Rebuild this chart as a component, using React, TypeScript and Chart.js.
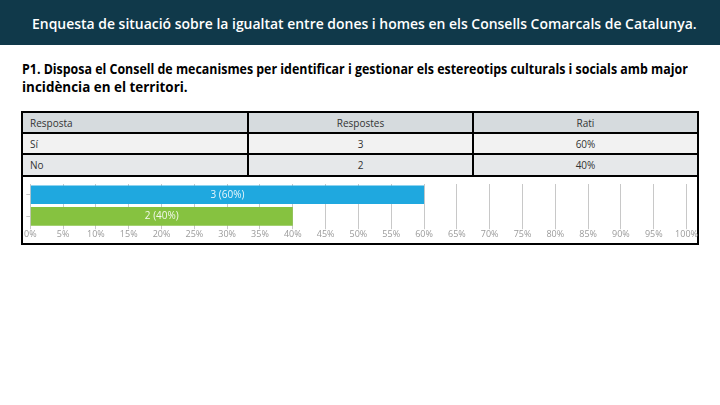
import React, { useEffect, useLayoutEffect, useRef } from "react";
import { Chart, registerables } from "chart.js";

Chart.register(...registerables);

const headerTitle = "Enquesta de situació sobre la igualtat entre dones i homes en els Consells Comarcals de Catalunya.";
const questionLines = [
  "P1. Disposa el Consell de mecanismes per identificar i gestionar els estereotips culturals i socials amb major",
  "incidència en el territori.",
];
const tableHeaders = ["Resposta", "Respostes", "Rati"];
const categories = ["Sí", "No"];
const counts = [3, 2];
const ratios = [60, 40];
const barColors = ["#1fa8df", "#86c240"];
const xTicks = [0, 5, 10, 15, 20, 25, 30, 35, 40, 45, 50, 55, 60, 65, 70, 75, 80, 85, 90, 95, 100];

function FitText({ text, width, style }: { text: string; width: number; style: React.CSSProperties }) {
  const ref = useRef<HTMLSpanElement>(null);
  useLayoutEffect(() => {
    const el = ref.current;
    if (!el) return;
    el.style.transform = "none";
    const w = el.offsetWidth;
    if (w > 0) el.style.transform = `scaleX(${width / w})`;
  }, [text, width]);
  return (
    <span
      ref={ref}
      style={{ display: "inline-block", whiteSpace: "nowrap", transformOrigin: "left center", ...style }}
    >
      {text}
    </span>
  );
}

const barLabelPlugin = {
  id: "barLabels",
  afterDatasetsDraw(chart: any) {
    const ctx = chart.ctx;
    const meta = chart.getDatasetMeta(0);
    ctx.save();
    ctx.font = "10px 'Open Sans', sans-serif";
    ctx.fillStyle = "rgba(255,255,255,0.9)";
    ctx.textAlign = "center";
    ctx.textBaseline = "middle";
    meta.data.forEach((bar: any, i: number) => {
      const cx = (bar.x + bar.base) / 2;
      ctx.fillText(`${counts[i]} (${ratios[i]}%)`, cx, bar.y);
    });
    ctx.restore();
  },
};

function BarChart() {
  const canvasRef = useRef<HTMLCanvasElement>(null);
  useEffect(() => {
    if (!canvasRef.current) return;
    const chart = new Chart(canvasRef.current, {
      type: "bar",
      data: {
        labels: categories,
        datasets: [
          {
            data: ratios,
            backgroundColor: barColors,
            borderWidth: 0,
            barPercentage: 0.86,
            categoryPercentage: 1,
          },
        ],
      },
      options: {
        indexAxis: "y",
        animation: false,
        responsive: false,
        maintainAspectRatio: false,
        layout: { padding: { left: 2, right: 11, top: 6, bottom: 0 } },
        plugins: { legend: { display: false }, tooltip: { enabled: false } },
        scales: {
          x: {
            min: 0,
            max: 100,
            afterBuildTicks: (axis: any) => {
              axis.ticks = xTicks.map((v) => ({ value: v }));
            },
            ticks: {
              autoSkip: false,
              maxRotation: 0,
              padding: 0,
              color: "#9a9a9a",
              font: { size: 9, family: "'Open Sans', sans-serif" },
              callback: (v: any) => `${v}%`,
            },
            grid: { color: "#c8c8c8", tickLength: 2, lineWidth: 1 },
            border: { display: false },
          },
          y: {
            ticks: { display: false },
            grid: { drawOnChartArea: false, offset: false, tickLength: 4, color: "#c8c8c8" },
            border: { display: false },
          },
        },
      },
      plugins: [barLabelPlugin],
    } as any);
    return () => chart.destroy();
  }, []);
  return <canvas ref={canvasRef} width={674} height={62} style={{ display: "block", width: 674, height: 62 }} />;
}

export default function App() {
  const cell: React.CSSProperties = {
    position: "absolute",
    display: "flex",
    alignItems: "center",
    fontFamily: "'Open Sans', sans-serif",
    fontSize: 10,
    color: "#333",
  };
  const rowsY = [112, 133, 154, 176];
  const colsX = [22, 248, 473, 698];
  const rowBg = ["#d6dbde", "#f2f2f2", "#e6e8ea"];
  const tableRows = [tableHeaders, [categories[0], String(counts[0]), `${ratios[0]}%`], [categories[1], String(counts[1]), `${ratios[1]}%`]];

  return (
    <div style={{ position: "fixed", left: 0, top: 0, width: 720, height: 405, background: "#fff", overflow: "hidden" }}>
      <div style={{ position: "absolute", left: 0, top: 0, width: 720, height: 45, background: "#10394a" }} />
      <div style={{ position: "absolute", left: 32, top: 12, height: 22, display: "flex", alignItems: "center" }}>
        <FitText
          text={headerTitle}
          width={665}
          style={{ color: "#fff", fontFamily: "'Open Sans', sans-serif", fontWeight: 600, fontSize: 15, lineHeight: "20px" }}
        />
      </div>
      {questionLines.map((line, i) => (
        <div key={i} style={{ position: "absolute", left: 22, top: 61 + i * 18, height: 16, display: "flex", alignItems: "center" }}>
          <FitText
            text={line}
            width={i === 0 ? 666 : 166}
            style={{ color: "#000", fontFamily: "'Open Sans', sans-serif", fontWeight: 700, fontSize: 13.5, lineHeight: "16px" }}
          />
        </div>
      ))}
      {/* table */}
      {tableRows.map((row, r) => (
        <React.Fragment key={r}>
          <div
            style={{
              position: "absolute",
              left: colsX[0],
              top: rowsY[r],
              width: colsX[3] - colsX[0],
              height: rowsY[r + 1] - rowsY[r],
              background: rowBg[r],
            }}
          />
          {row.map((txt, c) => (
            <div
              key={c}
              style={{
                ...cell,
                left: colsX[c] + (c === 0 ? 8 : 0),
                top: rowsY[r],
                width: colsX[c + 1] - colsX[c] - (c === 0 ? 8 : 0),
                height: rowsY[r + 1] - rowsY[r],
                justifyContent: c === 0 ? "flex-start" : "center",
              }}
            >
              {txt}
            </div>
          ))}
        </React.Fragment>
      ))}
      {rowsY.map((y, i) => (
        <div key={"h" + i} style={{ position: "absolute", left: 21, top: y - 1, width: 678, height: 2, background: "#000" }} />
      ))}
      {colsX.map((x, i) => (
        <div key={"v" + i} style={{ position: "absolute", left: x - 1, top: 111, width: 2, height: 66, background: "#000" }} />
      ))}
      {/* chart box */}
      <div
        style={{
          position: "absolute",
          left: 21,
          top: 175,
          width: 678,
          height: 70,
          boxSizing: "border-box",
          border: "2px solid #000",
        }}
      />
      <div style={{ position: "absolute", left: 24, top: 178 }}>
        <BarChart />
      </div>
    </div>
  );
}
